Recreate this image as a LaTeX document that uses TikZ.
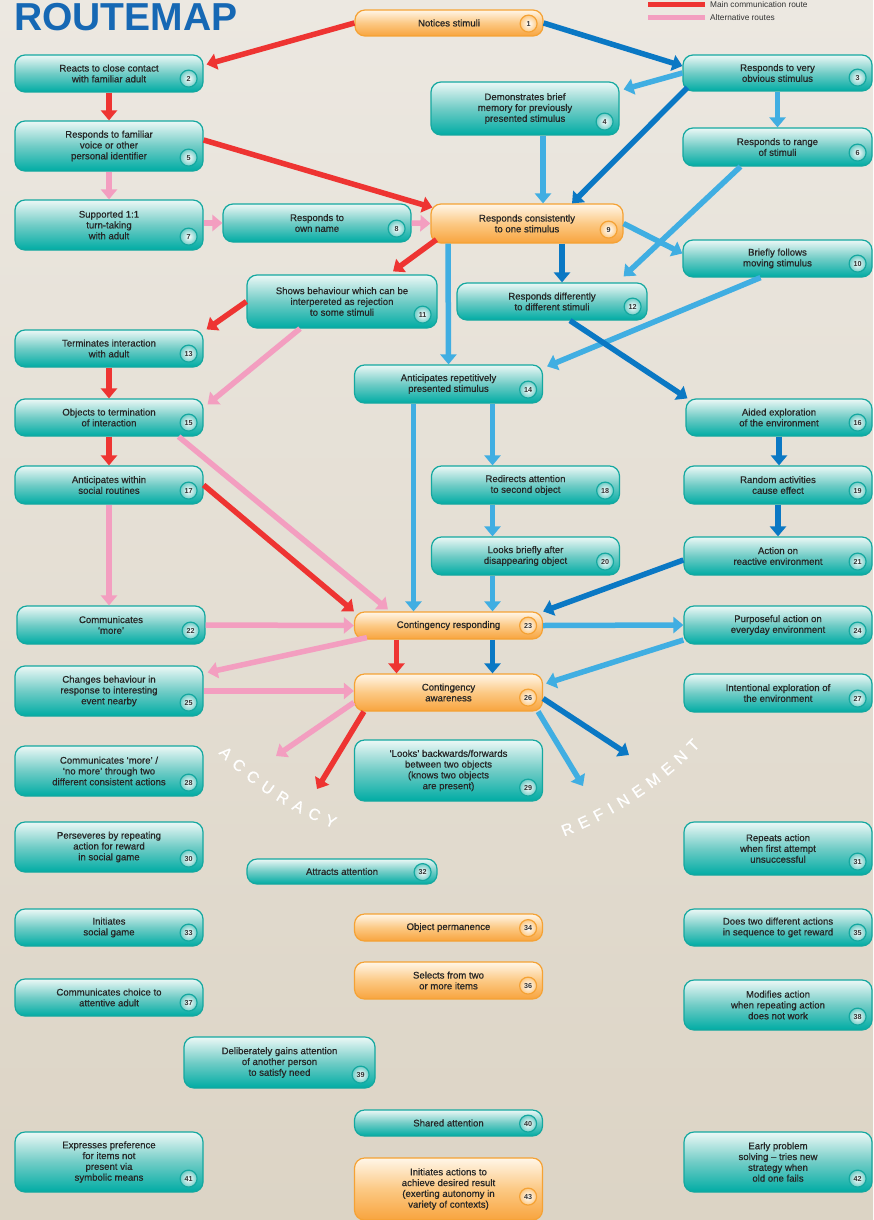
\documentclass[tikz,border=0pt]{standalone}
\usepackage{fontspec}
\setmainfont{Liberation Sans}
\newfontfamily\stagefont{Liberation Sans}[FakeBold=0.7]
\usetikzlibrary{positioning,arrows.meta,decorations.text}

\definecolor{tealline}{RGB}{20,168,160}
\definecolor{tealtop}{RGB}{236,248,246}
\definecolor{tealmid}{RGB}{112,204,198}
\definecolor{tealbot}{RGB}{0,172,164}
\definecolor{orline}{RGB}{245,162,52}
\definecolor{ortop}{RGB}{255,246,232}
\definecolor{ormid}{RGB}{252,201,132}
\definecolor{orbot}{RGB}{248,164,62}
\definecolor{mainred}{RGB}{238,52,50}
\definecolor{altpink}{RGB}{243,158,192}
\definecolor{lightblue}{RGB}{64,174,226}
\definecolor{darkblue}{RGB}{10,120,196}
\definecolor{titleblue}{RGB}{22,104,180}
\definecolor{bgtop}{RGB}{236,232,225}
\definecolor{bgbot}{RGB}{220,212,197}

\tikzset{
  stage/.style={rounded corners=10pt, line width=1.2pt, minimum width=188pt, align=center,
    inner sep=2pt, text=black!85, font=\stagefont\fontsize{9.6}{10.8}\selectfont},
  tealstage/.style={stage, draw=tealline, top color=tealtop, bottom color=tealbot, middle color=tealmid},
  orstage/.style={stage, draw=orline, top color=ortop, bottom color=orbot, middle color=ormid},
  badge/.style={circle, inner sep=0pt, minimum size=17pt, line width=1.2pt, text=black!80,
    font=\bfseries\fontsize{7.2}{8}\selectfont},
  tealbadge/.style={badge, draw=tealline, inner color=white, outer color=tealmid},
  orbadge/.style={badge, draw=orline, inner color=white, outer color=ormid},
  route/.style={line width=5.5pt, -{Triangle[width=16pt,length=10pt]}},
  mainroute/.style={route, mainred},
  altroute/.style={route, altpink},
  lbroute/.style={route, lightblue},
  dbroute/.style={route, darkblue},
  legend/.style={anchor=west, font=\fontsize{8.3}{9}\selectfont, text=black!80, inner sep=0pt}
}

\begin{document}
\begin{tikzpicture}[x=1pt, y=-1pt]
\useasboundingbox (0,0) rectangle (873,1220);
\shade[top color=bgtop, bottom color=bgbot] (0,0) rectangle (873,1220);

\node[anchor=base west, font=\bfseries\fontsize{39}{39}\selectfont, text=titleblue, inner sep=0pt] (title) at (14,31) {ROUTEMAP};
\node[legend] (lg1) at (710,5) {Main communication route};
\node[legend] (lg2) at (710,18) {Alternative routes};
\draw[line width=5pt, mainred] ([xshift=-5pt]lg1.west) -- ++(-57,0);
\draw[line width=5pt, altpink] ([xshift=-5pt]lg2.west) -- ++(-57,0);

\node[orstage, minimum height=26pt] (s1) at (449,23) {Notices stimuli};
\node[orbadge] (n1) at ([shift={(-15,-13)}]s1.south east) {1};
\node[tealstage, minimum height=37pt] (s2) at (109,73.5) {Reacts to close contact\\with familiar adult};
\node[tealbadge] (n2) at ([shift={(-15,-14)}]s2.south east) {2};
\node[tealstage, minimum height=36pt, minimum width=189pt] (s3) at (777.5,73) {Responds to very\\obvious stimulus};
\node[tealbadge] (n3) at ([shift={(-15,-14)}]s3.south east) {3};
\node[tealstage, minimum height=53pt] (s4) at (525,108.5) {Demonstrates brief\\memory for previously\\presented stimulus};
\node[tealbadge] (n4) at ([shift={(-15,-14)}]s4.south east) {4};
\node[tealstage, minimum height=50pt] (s5) at (109,146) {Responds to familiar\\voice or other\\personal identifier};
\node[tealbadge] (n5) at ([shift={(-15,-14)}]s5.south east) {5};
\node[tealstage, minimum height=38pt, minimum width=189pt] (s6) at (777.5,147) {Responds to range\\of stimuli};
\node[tealbadge] (n6) at ([shift={(-15,-14)}]s6.south east) {6};
\node[tealstage, minimum height=50pt] (s7) at (109,225) {Supported 1:1\\turn-taking\\with adult};
\node[tealbadge] (n7) at ([shift={(-15,-14)}]s7.south east) {7};
\node[tealstage, minimum height=38pt] (s8) at (317,223) {Responds to\\own name};
\node[tealbadge] (n8) at ([shift={(-15,-14)}]s8.south east) {8};
\node[orstage, minimum height=39pt, minimum width=192pt] (s9) at (527,223.5) {Responds consistently\\to one stimulus};
\node[orbadge] (n9) at ([shift={(-15,-14)}]s9.south east) {9};
\node[tealstage, minimum height=37pt, minimum width=189pt] (s10) at (777.5,258.5) {Briefly follows\\moving stimulus};
\node[tealbadge] (n10) at ([shift={(-15,-14)}]s10.south east) {10};
\node[tealstage, minimum height=53pt, minimum width=190pt] (s11) at (342,301.5) {Shows behaviour which can be\\interpereted as rejection\\to some stimuli};
\node[tealbadge] (n11) at ([shift={(-15,-14)}]s11.south east) {11};
\node[tealstage, minimum height=37pt, minimum width=190pt] (s12) at (552,301.5) {Responds differently\\to different stimuli};
\node[tealbadge] (n12) at ([shift={(-15,-14)}]s12.south east) {12};
\node[tealstage, minimum height=37pt] (s13) at (109,348.5) {Terminates interaction\\with adult};
\node[tealbadge] (n13) at ([shift={(-15,-14)}]s13.south east) {13};
\node[tealstage, minimum height=38pt] (s14) at (448.5,384) {Anticipates repetitively\\presented stimulus};
\node[tealbadge] (n14) at ([shift={(-15,-14)}]s14.south east) {14};
\node[tealstage, minimum height=37pt] (s15) at (109,417.5) {Objects to termination\\of interaction};
\node[tealbadge] (n15) at ([shift={(-15,-14)}]s15.south east) {15};
\node[tealstage, minimum height=37pt, minimum width=186pt] (s16) at (779,417.5) {Aided exploration\\of the environment};
\node[tealbadge] (n16) at ([shift={(-15,-14)}]s16.south east) {16};
\node[tealstage, minimum height=38pt] (s17) at (109,485) {Anticipates within\\social routines};
\node[tealbadge] (n17) at ([shift={(-15,-14)}]s17.south east) {17};
\node[tealstage, minimum height=38pt] (s18) at (525.5,485) {Redirects attention\\to second object};
\node[tealbadge] (n18) at ([shift={(-15,-14)}]s18.south east) {18};
\node[tealstage, minimum height=38pt] (s19) at (778,485) {Random activities\\cause effect};
\node[tealbadge] (n19) at ([shift={(-15,-14)}]s19.south east) {19};
\node[tealstage, minimum height=38pt] (s20) at (525.5,556) {Looks briefly after\\disappearing object};
\node[tealbadge] (n20) at ([shift={(-15,-14)}]s20.south east) {20};
\node[tealstage, minimum height=38pt] (s21) at (778,556) {Action on\\reactive environment};
\node[tealbadge] (n21) at ([shift={(-15,-14)}]s21.south east) {21};
\node[tealstage, minimum height=38pt] (s22) at (111,625) {Communicates\\‘more’};
\node[tealbadge] (n22) at ([shift={(-15,-14)}]s22.south east) {22};
\node[orstage, minimum height=27pt] (s23) at (448.5,625.5) {Contingency responding};
\node[orbadge] (n23) at ([shift={(-15,-14)}]s23.south east) {23};
\node[tealstage, minimum height=38pt] (s24) at (778,625) {Purposeful action on\\everyday environment};
\node[tealbadge] (n24) at ([shift={(-15,-14)}]s24.south east) {24};
\node[tealstage, minimum height=50pt] (s25) at (109,691) {Changes behaviour in\\response to interesting\\event nearby};
\node[tealbadge] (n25) at ([shift={(-15,-14)}]s25.south east) {25};
\node[orstage, minimum height=37pt] (s26) at (448.5,692.5) {Contingency\\awareness};
\node[orbadge] (n26) at ([shift={(-15,-14)}]s26.south east) {26};
\node[tealstage, minimum height=38pt] (s27) at (778,693) {Intentional exploration of\\the environment};
\node[tealbadge] (n27) at ([shift={(-15,-14)}]s27.south east) {27};
\node[tealstage, minimum height=50pt] (s28) at (109,771) {Communicates ‘more’ /\\‘no more’ through two\\different consistent actions};
\node[tealbadge] (n28) at ([shift={(-15,-14)}]s28.south east) {28};
\node[tealstage, minimum height=61pt] (s29) at (448.5,770.5) {‘Looks’ backwards/forwards\\between two objects\\(knows two objects\\are present)};
\node[tealbadge] (n29) at ([shift={(-15,-14)}]s29.south east) {29};
\node[tealstage, minimum height=50pt] (s30) at (109,847) {Perseveres by repeating\\action for reward\\in social game};
\node[tealbadge] (n30) at ([shift={(-15,-14)}]s30.south east) {30};
\node[tealstage, minimum height=53pt] (s31) at (778,848.5) {Repeats action\\when first attempt\\unsuccessful};
\node[tealbadge] (n31) at ([shift={(-15,-14)}]s31.south east) {31};
\node[tealstage, minimum height=25pt, minimum width=190pt] (s32) at (342,871.5) {Attracts attention};
\node[tealbadge] (n32) at ([shift={(-15,-12.5)}]s32.south east) {32};
\node[tealstage, minimum height=37pt] (s33) at (109,927.5) {Initiates\\social game};
\node[tealbadge] (n33) at ([shift={(-15,-14)}]s33.south east) {33};
\node[orstage, minimum height=27pt] (s34) at (448.5,927.5) {Object permanence};
\node[orbadge] (n34) at ([shift={(-15,-13.5)}]s34.south east) {34};
\node[tealstage, minimum height=37pt] (s35) at (778,927.5) {Does two different actions\\in sequence to get reward};
\node[tealbadge] (n35) at ([shift={(-15,-14)}]s35.south east) {35};
\node[orstage, minimum height=37pt] (s36) at (448.5,980.5) {Selects from two\\or more items};
\node[orbadge] (n36) at ([shift={(-15,-14)}]s36.south east) {36};
\node[tealstage, minimum height=37pt] (s37) at (109,997.5) {Communicates choice to\\attentive adult};
\node[tealbadge] (n37) at ([shift={(-15,-14)}]s37.south east) {37};
\node[tealstage, minimum height=50pt] (s38) at (778,1005) {Modifies action\\when repeating action\\does not work};
\node[tealbadge] (n38) at ([shift={(-15,-14)}]s38.south east) {38};
\node[tealstage, minimum height=51pt, minimum width=191pt] (s39) at (279.5,1062.5) {Deliberately gains attention\\of another person\\to satisfy need};
\node[tealbadge] (n39) at ([shift={(-15,-14)}]s39.south east) {39};
\node[tealstage, minimum height=26pt] (s40) at (448.5,1123) {Shared attention};
\node[tealbadge] (n40) at ([shift={(-15,-13)}]s40.south east) {40};
\node[tealstage, minimum height=60pt] (s41) at (109,1162) {Expresses preference\\for items not\\present via\\symbolic means};
\node[tealbadge] (n41) at ([shift={(-15,-14)}]s41.south east) {41};
\node[tealstage, minimum height=60pt] (s42) at (778,1162) {Early problem\\solving – tries new\\strategy when\\old one fails};
\node[tealbadge] (n42) at ([shift={(-15,-14)}]s42.south east) {42};
\node[orstage, minimum height=62pt] (s43) at (448.5,1189) {Initiates actions to\\achieve desired result\\(exerting autonomy in\\variety of contexts)};
\node[orbadge] (n43) at ([shift={(-15,-24)}]s43.south east) {43};

\coordinate (acc1) at (276,756);
\coordinate (acc2) at (317,789);
\coordinate (ref1) at (583,786);
\coordinate (ref2) at (629,755);
\coordinate (acchub) at (438.5,540.6);
\coordinate (refhub) at (427.5,484);

\draw[mainroute] (s1.west) -- ([shift={(3,10)}]s2.north east);
\draw[mainroute] (s2) -- (s5);
\draw[mainroute] ([yshift=6pt]s5.east) -- ([shift={(2,-16)}]s9.west);
\draw[mainroute] ([shift={(6,-4)}]s9.south west) -- ([shift={(51,-3)}]s11.north);
\draw[mainroute] (s11.west) -- ([xshift=3pt]s13.north east);
\draw[mainroute] (s13) -- (s15);
\draw[mainroute] (s15) -- (s17);
\draw[mainroute] (s17.east) -- (s23.north west);
\draw[mainroute] ([xshift=-52pt]s23.south) -- ([xshift=-52pt]s26.north);
\draw[mainroute] ([xshift=10pt]s26.south west) -- (acc2);

\draw[altroute] (s5) -- (s7);
\draw[altroute] (s7.east |- s8.west) -- (s8.west);
\draw[altroute] (s8.east) -- (s9.west);
\draw[altroute] ([xshift=-42pt]s11.south) -- ([shift={(4,6)}]s15.north east);
\draw[altroute] ([xshift=-25pt]s15.south east) -- ([shift={(34,-2)}]s23.north west);
\draw[altroute] (s17.south) -- (s17.south |- s22.north);
\draw[altroute] (s22.east) -- (s23.west);
\draw[altroute] ([shift={(13,-2)}]s23.south west) -- ([shift={(4,7)}]s25.north east);
\draw[altroute] (s25.east) -- (s25.east -| s26.west);
\draw[altroute] ([yshift=-10pt]s26.west) -- (acc1);

\draw[lbroute] (s3.west) -- ([shift={(4,8)}]s4.north east);
\draw[lbroute] (s3) -- (s6);
\draw[lbroute] ([xshift=18pt]s4.south) -- ([xshift=16pt]s9.north);
\draw[lbroute] ([xshift=-37pt]s6.south) -- ([shift={(-24,-6)}]s12.north east);
\draw[lbroute] (s9.east) -- ([yshift=5pt]s10.west);
\draw[lbroute] ([xshift=-79pt]s9.south) -- (s14.north);
\draw[lbroute] ([xshift=-17pt]s10.south) -- ([shift={(4,2)}]s14.north east);
\draw[lbroute] ([xshift=-35pt]s14.south) -- ([xshift=-35pt]s23.north);
\draw[lbroute] ([xshift=44pt]s14.south) -- ([xshift=-33pt]s18.north);
\draw[lbroute] ([xshift=-33pt]s18.south) -- ([xshift=-33pt]s20.north);
\draw[lbroute] ([xshift=-33pt]s20.south) -- ([xshift=44pt]s23.north);
\draw[lbroute] (s23.east) -- (s24.west);
\draw[lbroute] ([yshift=-15pt]s24.west) -- ([shift={(3,-9)}]s26.east);
\draw[lbroute] ([xshift=-5pt]s26.south east) -- (ref1);

\draw[dbroute] (s1.east) -- ([yshift=7pt]s3.west);
\draw[dbroute] ([shift={(5,-4)}]s3.south west) -- ([xshift=45pt]s9.north);
\draw[dbroute] ([xshift=35pt]s9.south) -- ([xshift=10pt]s12.north);
\draw[dbroute] ([xshift=18pt]s12.south) -- ([xshift=2pt]s16.north west);
\draw[dbroute] (s16.south) -- (s16.south |- s19.north);
\draw[dbroute] (s19) -- (s21);
\draw[dbroute] ([yshift=-4pt]s21.west) -- (s23.north east);
\draw[dbroute] ([xshift=44pt]s23.south) -- ([xshift=44pt]s26.north);
\draw[dbroute] ([yshift=-6pt]s26.east) -- (ref2);

\path[decorate, decoration={text along path, text align=fit to path, text color=white,
  text={|\stagefont\fontsize{16}{16}\selectfont|ACCURACY}}]
  ([shift={(224:306pt)}]acchub) arc[start angle=224, end angle=250, radius=306pt];
\path[decorate, decoration={text along path, text align=fit to path, text color=white,
  text={|\stagefont\fontsize{16}{16}\selectfont|REFINEMENT}}]
  ([shift={(291.2:378pt)}]refhub) arc[start angle=291.2, end angle=316.2, radius=378pt];
\end{tikzpicture}
\end{document}
